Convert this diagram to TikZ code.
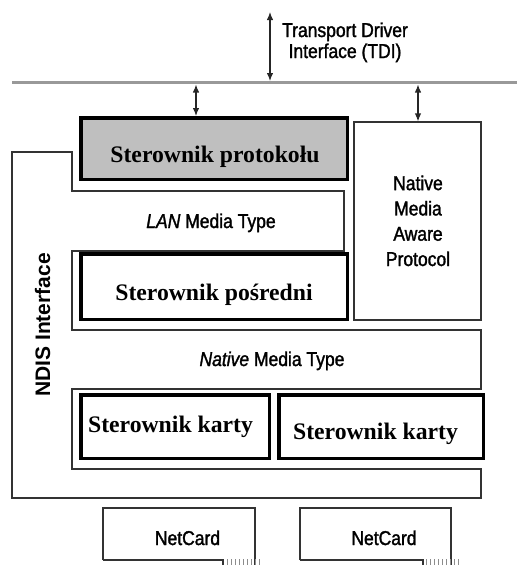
\documentclass[tikz,border=0pt]{standalone}
\usepackage{fontspec}
\setmainfont{Liberation Serif}
\newfontfamily\narrowsf[FakeStretch=0.875,FakeBold=1.5]{Liberation Sans}
\newfontfamily\ndissf{Liberation Sans}
\usetikzlibrary{arrows.meta}
\tikzstyle{drvbox}=[draw=black,line width=3.5pt]
\tikzstyle{protobox}=[drvbox,fill=gray!50]
\tikzstyle{thinbox}=[draw=black!80,line width=1.2pt]
\tikzstyle{drvtext}=[anchor=base,inner sep=0pt,font=\drvf]
\tikzstyle{lbl}=[anchor=base,inner sep=0pt,font=\lblf]
\tikzstyle{dbl}=[{Latex[length=8pt,width=6.5pt]}-{Latex[length=8pt,width=6.5pt]},line width=1.2pt,black!85]
\newcommand{\drvf}{\bfseries\fontsize{23.7}{26}\selectfont}
\newcommand{\lblf}{\narrowsf\fontsize{20}{25.3}\selectfont}
\newcommand{\ndisf}{\ndissf\bfseries\fontsize{21}{24}\selectfont}

\begin{document}
\begin{tikzpicture}[x=1pt,y=-1pt]
  \useasboundingbox (0,0) rectangle (517,565);
  % TDI bus
  \coordinate (bus) at (12,82.5);
  \coordinate (busend) at (517,82.5);
  \draw[black!40,line width=3pt] (bus) -- (busend);
  \coordinate (tdiTop) at (270,12);
  \draw[dbl,shorten >=1.5pt] (tdiTop) -- (tdiTop |- bus);
  \node[lbl,align=center] (tdi) at (345,58) {Transport Driver\\[-4.3pt]Interface (TDI)};
  % NDIS interface outline
  \draw[thinbox] (12,152) -- (72,152) -- (72,191) -- (344,191) -- (344,251)
    -- (72,251) -- (72,330) -- (481,330) -- (481,389) -- (72,389)
    -- (72,469) -- (481,469) -- (481,498) -- (12,498) -- cycle;
  \node[anchor=base,inner sep=0pt,rotate=90,font=\ndisf] (ndis) at (50,325) {NDIS Interface};
  % drivers
  \node[protobox,minimum width=266.5,minimum height=61.5] (proto) at (214,148.5) {};
  \node[drvtext] (protoT) at (215,162.7) {Sterownik protokołu};
  \node[thinbox,minimum width=127,minimum height=198] (native) at (417.5,221) {};
  \node[lbl,align=center] (nativeT) at (418,266) {Native\\Media\\Aware\\Protocol};
  \node[lbl] (lan) at (211,228) {\textit{LAN} Media Type};
  \node[drvbox,minimum width=266.5,minimum height=65.5] (inter) at (214,286.5) {};
  \node[drvtext] (interT) at (214,300) {Sterownik pośredni};
  \node[lbl] (natmt) at (272,366) {\textit{Native} Media Type};
  \node[drvbox,minimum width=188.5,minimum height=63.5] (cardA) at (175,426.5) {};
  \node[drvtext] (cardAT) at (170.5,432) {Sterownik karty};
  \node[drvbox,minimum width=204.5,minimum height=63.5] (cardB) at (381,426.5) {};
  \node[drvtext] (cardBT) at (375.5,439) {Sterownik karty};
  % links to the bus
  \coordinate (pIn) at (196,84.5);
  \coordinate (nIn) at (418,84.5);
  \draw[dbl] (pIn) -- (pIn |- proto.north);
  \draw[dbl] (nIn) -- (nIn |- native.north);
  % network cards
  \draw[thinbox] (103,560) -- (103,508) -- (255,508) -- (255,565);
  \draw[thinbox] (103,560) -- (223,560) -- (223,565);
  \foreach \i in {0,...,8}
    \draw[black!45,line width=0.8pt] (227+\i*4,559) -- ++(0,6);
  \node[lbl] (nicA) at (187.5,545) {NetCard};
  \draw[thinbox] (300,560) -- (300,508) -- (451,508) -- (451,565);
  \draw[thinbox] (300,560) -- (423,560) -- (423,565);
  \foreach \i in {0,...,8}
    \draw[black!45,line width=0.8pt] (426+\i*4,559) -- ++(0,6);
  \node[lbl] (nicB) at (384,545) {NetCard};
\end{tikzpicture}
\end{document}
